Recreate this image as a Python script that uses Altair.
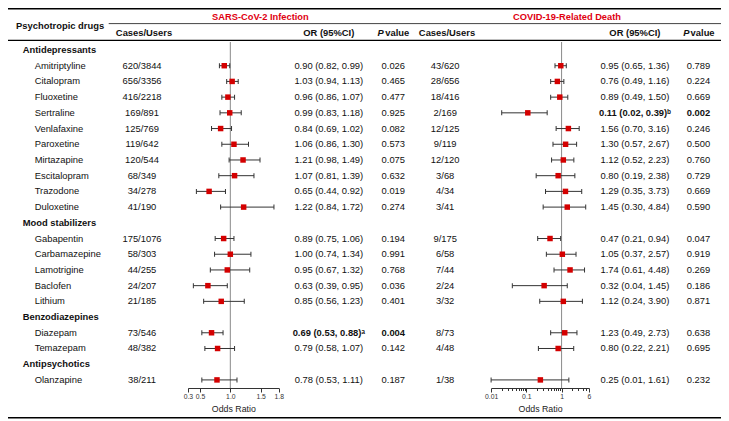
import altair as alt
import pandas as pd

# ---------------- data ----------------
categories = ["Antidepressants", "Mood stabilizers", "Benzodiazepines", "Antipsychotics"]
drugs = ["Amitriptyline", "Citalopram", "Fluoxetine", "Sertraline", "Venlafaxine", "Paroxetine",
         "Mirtazapine", "Escitalopram", "Trazodone", "Duloxetine",
         "Gabapentin", "Carbamazepine", "Lamotrigine", "Baclofen", "Lithium",
         "Diazepam", "Temazepam",
         "Olanzapine"]
drug_category = ["Antidepressants"] * 10 + ["Mood stabilizers"] * 5 + ["Benzodiazepines"] * 2 + ["Antipsychotics"]

cases_inf = ["620/3844", "656/3356", "416/2218", "169/891", "125/769", "119/642", "120/544", "68/349",
             "34/278", "41/190", "175/1076", "58/303", "44/255", "24/207", "21/185", "73/546", "48/382", "38/211"]
or_inf = [0.90, 1.03, 0.96, 0.99, 0.84, 1.06, 1.21, 1.07, 0.65, 1.22, 0.89, 1.00, 0.95, 0.63, 0.85, 0.69, 0.79, 0.78]
lo_inf = [0.82, 0.94, 0.86, 0.83, 0.69, 0.86, 0.98, 0.81, 0.44, 0.84, 0.75, 0.74, 0.67, 0.39, 0.56, 0.53, 0.58, 0.53]
hi_inf = [0.99, 1.13, 1.07, 1.18, 1.02, 1.30, 1.49, 1.39, 0.92, 1.72, 1.06, 1.34, 1.32, 0.95, 1.23, 0.88, 1.07, 1.11]
p_inf = [0.026, 0.465, 0.477, 0.925, 0.082, 0.573, 0.075, 0.632, 0.019, 0.274, 0.194, 0.991, 0.768, 0.036,
         0.401, 0.004, 0.142, 0.187]
sup_inf = [""] * 15 + ["ᵃ", "", ""]

cases_death = ["43/620", "28/656", "18/416", "2/169", "12/125", "9/119", "12/120", "3/68", "4/34", "3/41",
               "9/175", "6/58", "7/44", "2/24", "3/32", "8/73", "4/48", "1/38"]
or_death = [0.95, 0.76, 0.89, 0.11, 1.56, 1.30, 1.12, 0.80, 1.29, 1.45, 0.47, 1.05, 1.74, 0.32, 1.12, 1.23, 0.80, 0.25]
lo_death = [0.65, 0.49, 0.49, 0.02, 0.70, 0.57, 0.52, 0.19, 0.35, 0.30, 0.21, 0.37, 0.61, 0.04, 0.24, 0.49, 0.22, 0.01]
hi_death = [1.36, 1.16, 1.50, 0.39, 3.16, 2.67, 2.23, 2.38, 3.73, 4.84, 0.94, 2.57, 4.48, 1.45, 3.90, 2.73, 2.21, 1.61]
p_death = [0.789, 0.224, 0.669, 0.002, 0.246, 0.500, 0.760, 0.729, 0.669, 0.590, 0.047, 0.919, 0.269, 0.186,
           0.871, 0.638, 0.695, 0.232]
sup_death = ["", "", "", "ᵇ"] + [""] * 14

group_titles = ["SARS-CoV-2 Infection", "COVID-19-Related Death"]
first_header = "Psychotropic drugs"
col_headers = ["Cases/Users", "OR (95%CI)", "P", "value"]
axis_title = "Odds Ratio"
inf_ticks = [0.3, 0.5, 1.0, 1.5, 1.8]
death_ticks = [0.01, 0.02, 0.03, 0.04, 0.05, 0.06, 0.07, 0.08, 0.09,
               0.1, 0.2, 0.3, 0.4, 0.5, 0.6, 0.7, 0.8, 0.9,
               1, 2, 3, 4, 5, 6]
death_labeled = [0.01, 0.1, 1, 6]

# ---------------- tables ----------------
rows_cat, rows_drug = [], []
r = 0
for c in categories:
    rows_cat.append({"row": r, "label": c})
    r += 1
    for k, d in enumerate(drugs):
        if drug_category[k] == c:
            rows_drug.append({
                "row": r, "drug": d,
                "cases_inf": cases_inf[k], "or_inf": or_inf[k], "lo_inf": lo_inf[k], "hi_inf": hi_inf[k],
                "or_inf_txt": f"{or_inf[k]:.2f} ({lo_inf[k]:.2f}, {hi_inf[k]:.2f}){sup_inf[k]}",
                "p_inf_txt": f"{p_inf[k]:.3f}", "sig_inf": sup_inf[k] != "",
                "cases_death": cases_death[k], "or_death": or_death[k], "lo_death": lo_death[k],
                "hi_death": hi_death[k],
                "or_death_txt": f"{or_death[k]:.2f} ({lo_death[k]:.2f}, {hi_death[k]:.2f}){sup_death[k]}",
                "p_death_txt": f"{p_death[k]:.3f}", "sig_death": sup_death[k] != "",
            })
            r += 1
df_cat = pd.DataFrame(rows_cat)
df = pd.DataFrame(rows_drug)

FS = 9.4
FONT = "Liberation Sans"
W, H = 713, 380
RED = "#e00010"

y_enc = alt.Y("row:Q", scale=alt.Scale(domain=[-2.6735, 21.515], reverse=True, nice=False, zero=False), axis=None)


def col_text(field, x, align="center", weight="normal", filt=None):
    ch = alt.Chart(df)
    if filt is not None:
        ch = ch.transform_filter(filt)
    return ch.mark_text(align=align, baseline="middle", fontSize=FS, fontWeight=weight, color="#111",
                        font=FONT).encode(x=alt.value(x), y=y_enc, text=f"{field}:N")


def label(text, x, y, align="center", weight="normal", color="#111", style="normal", size=FS):
    return alt.Chart(pd.DataFrame({"t": [text]})).mark_text(
        align=align, baseline="middle", fontSize=size, fontWeight=weight, fontStyle=style, color=color, font=FONT
    ).encode(x=alt.value(x), y=alt.value(y), text="t:N")


def hline(x1, x2, y, w, color="#000"):
    return alt.Chart(pd.DataFrame({"a": [0]})).mark_rule(color=color, strokeWidth=w).encode(
        x=alt.value(x1), x2=alt.value(x2), y=alt.value(y))


layers = []
# lines
layers += [hline(0, W, 0.8, 1.6), hline(100.7, W, 15.6, 1, "#444"), hline(0, W, 32.4, 1.3), hline(0, W, 409.8, 1.6)]
# headers
layers += [
    label(first_header, 8.1, 17.6, align="left", weight="bold"),
    label(group_titles[0], 252.4, 8.8, weight="bold", color=RED, size=9.3),
    label(group_titles[1], 559.0, 8.8, weight="bold", color=RED, size=9.3),
    label(col_headers[0], 136.0, 25.4, weight="bold"),
    label(col_headers[1], 320.8, 25.4, weight="bold"),
    label(col_headers[2], 369.5, 25.4, align="left", weight="bold", style="italic"),
    label(col_headers[3], 377.3, 25.4, align="left", weight="bold"),
    label(col_headers[0], 439.0, 25.4, weight="bold"),
    label(col_headers[1], 626.9, 25.4, weight="bold"),
    label(col_headers[2], 675.3, 25.4, align="left", weight="bold", style="italic"),
    label(col_headers[3], 682.6, 25.4, align="left", weight="bold"),
]
# row labels
layers.append(alt.Chart(df_cat).mark_text(align="left", baseline="middle", fontSize=FS, fontWeight="bold",
                                           color="#111", font=FONT).encode(x=alt.value(14.7), y=y_enc, text="label:N"))
layers.append(col_text("drug", 26.7, align="left"))
layers.append(col_text("cases_inf", 134.0))
layers.append(col_text("or_inf_txt", 320.8, filt="!datum.sig_inf"))
layers.append(col_text("or_inf_txt", 320.8, weight="bold", filt="datum.sig_inf"))
layers.append(col_text("p_inf_txt", 385.3, filt="!datum.sig_inf"))
layers.append(col_text("p_inf_txt", 385.3, weight="bold", filt="datum.sig_inf"))
layers.append(col_text("cases_death", 437.2))
layers.append(col_text("or_death_txt", 626.9, filt="!datum.sig_death"))
layers.append(col_text("or_death_txt", 626.9, weight="bold", filt="datum.sig_death"))
layers.append(col_text("p_death_txt", 690.5, filt="!datum.sig_death"))
layers.append(col_text("p_death_txt", 690.5, weight="bold", filt="datum.sig_death"))


def forest(prefix, scale, axis):
    base = alt.Chart(df)
    ref = alt.Chart(pd.DataFrame({"v": [1.0]})).mark_rule(color="#8a8a8a", strokeWidth=1).encode(
        x=alt.X("v:Q", scale=scale, axis=None), y=alt.value(34), y2=alt.value(H))
    bar = base.mark_rule(color="#333", strokeWidth=1).encode(
        x=alt.X(f"lo_{prefix}:Q", scale=scale, axis=axis), x2=f"hi_{prefix}:Q", y=y_enc)
    cap1 = base.mark_tick(orient="vertical", size=5, thickness=1, color="#333", opacity=1).encode(
        x=alt.X(f"lo_{prefix}:Q", scale=scale, axis=None), y=y_enc)
    cap2 = base.mark_tick(orient="vertical", size=5, thickness=1, color="#333", opacity=1).encode(
        x=alt.X(f"hi_{prefix}:Q", scale=scale, axis=None), y=y_enc)
    sq = base.mark_square(size=30, color="#d40000", opacity=1).encode(
        x=alt.X(f"or_{prefix}:Q", scale=scale, axis=None), y=y_enc)
    return [ref, bar, cap1, cap2, sq]


axis_common = dict(orient="bottom", grid=False, title=axis_title, labelFontSize=6.8, titleFontSize=8.8,
                   titleFontWeight="normal", titleColor="#222", domainColor="#333", tickColor="#333",
                   labelColor="#333", labelPadding=1, titlePadding=5, labelFlush=False, labelOverlap=False,
                   domainWidth=1, tickWidth=1, labelFont=FONT, titleFont=FONT)

scale_inf = alt.Scale(type="linear", domain=[0.3, 1.8], range=[179.9, 270.8], nice=False, zero=False)
axis_inf = alt.Axis(values=inf_ticks, format=".1f", tickSize=4, **axis_common)
scale_death = alt.Scale(type="log", domain=[0.01, 6], range=[483.1, 581.0], nice=False)
lab_test = "indexof(" + str(death_labeled) + ", datum.value) >= 0"
axis_death = alt.Axis(values=death_ticks, format="~g",
                      labelExpr=lab_test + " ? datum.label : ''",
                      tickSize={"condition": {"test": lab_test, "value": 4}, "value": 2.5},
                      **axis_common)

layers += forest("inf", scale_inf, axis_inf)
layers += forest("death", scale_death, axis_death)

chart = alt.layer(*layers).resolve_scale(x="independent").properties(
    width=W, height=H,
    padding={"left": 0, "top": 0, "right": 0, "bottom": 31},
    autosize=alt.AutoSizeParams(type="none"),
).configure(font=FONT).configure_view(strokeWidth=0)

chart.save("out.html", embed_options={"renderer": "svg", "actions": False})
